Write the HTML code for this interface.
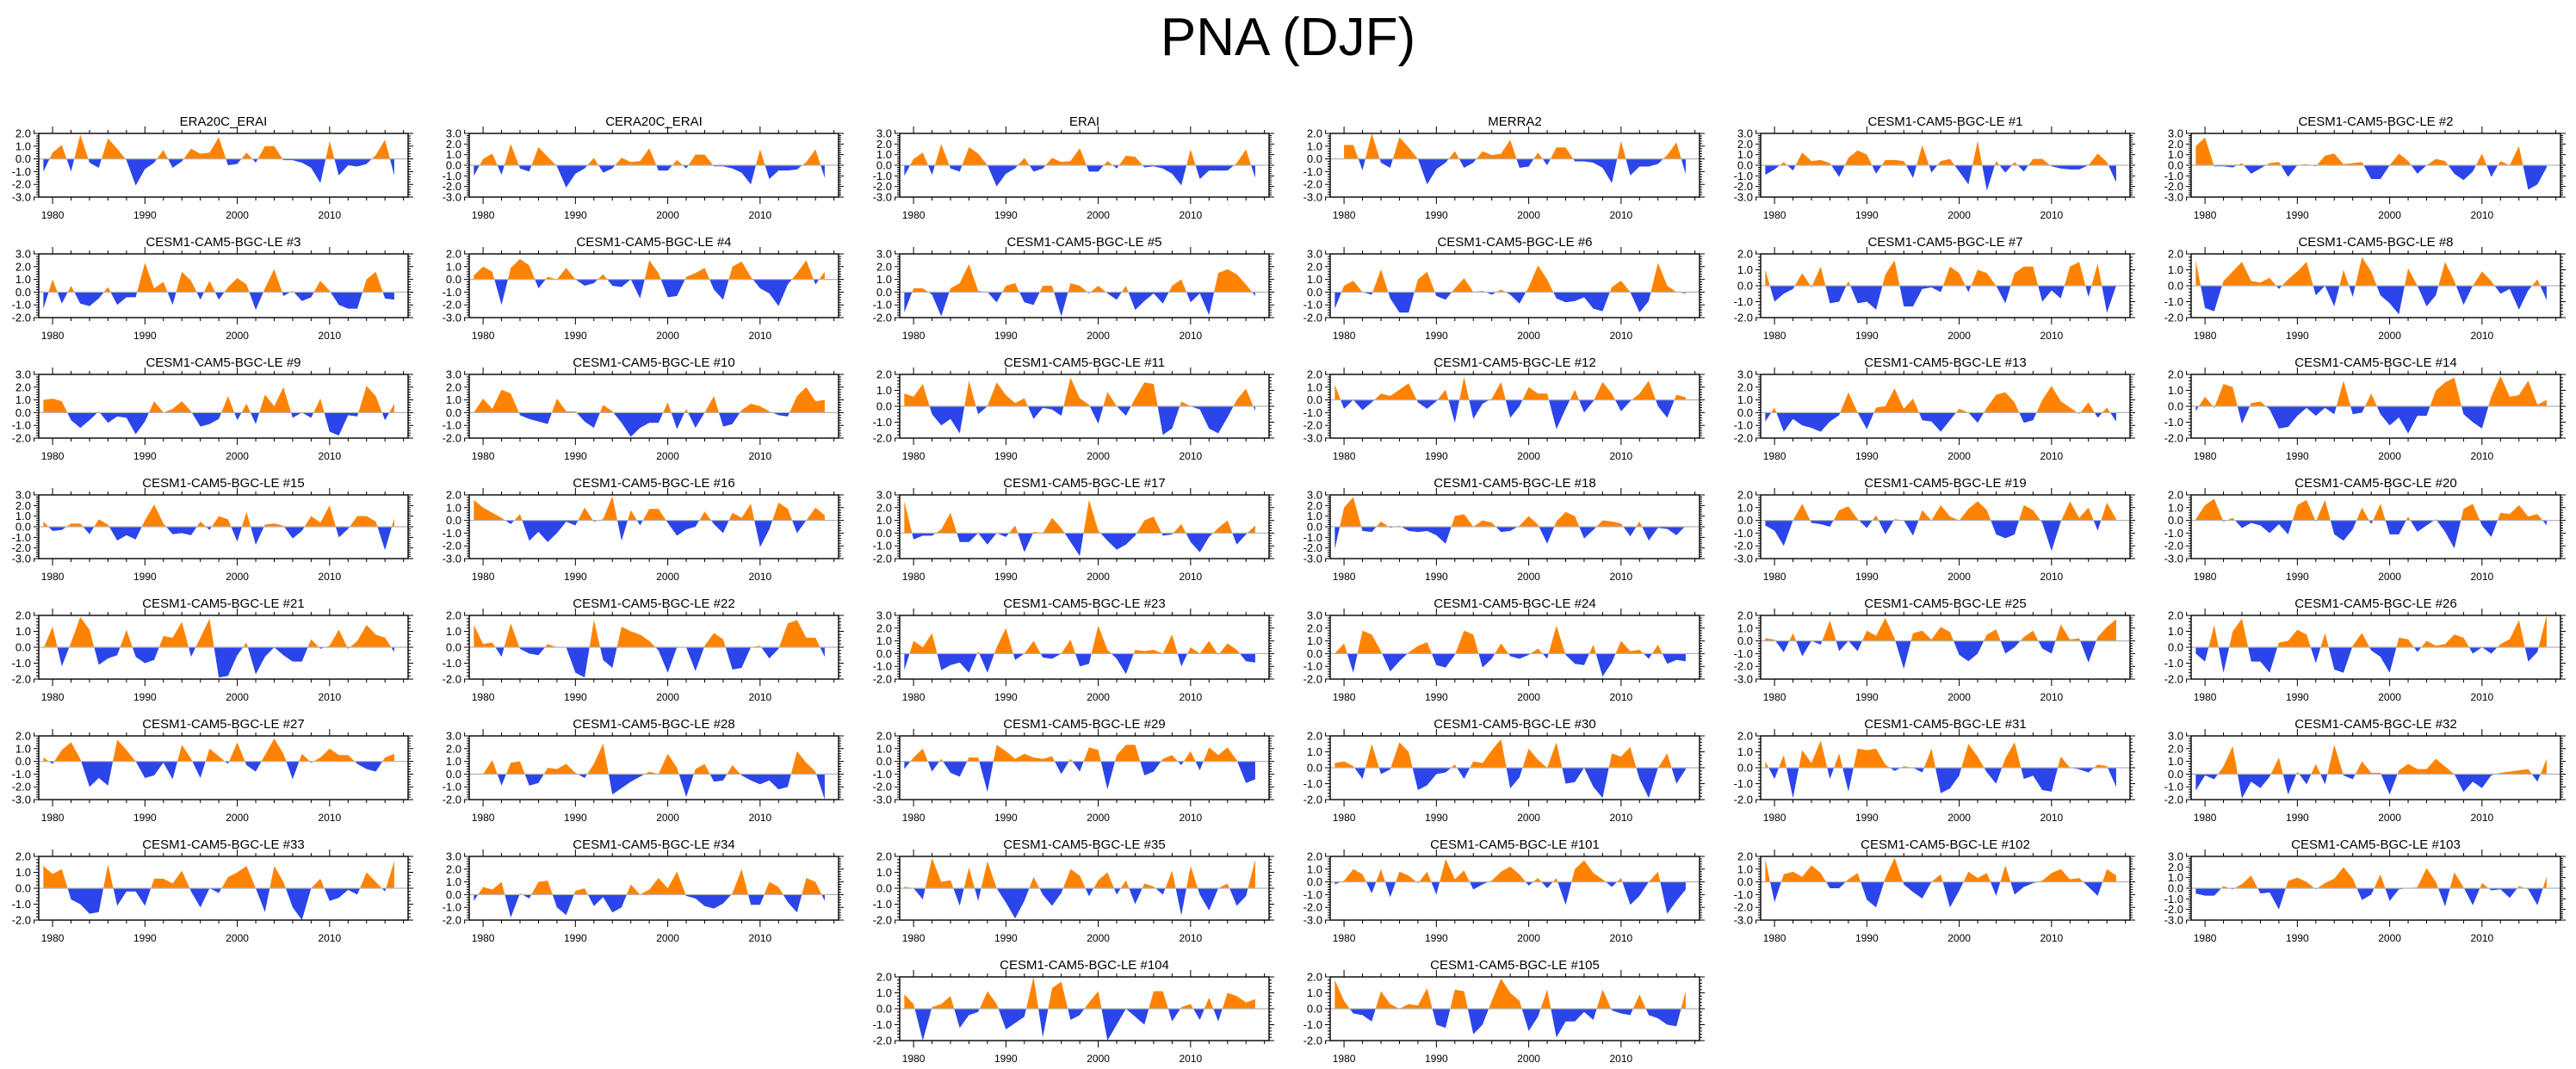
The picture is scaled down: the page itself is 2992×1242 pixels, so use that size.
<!DOCTYPE html>
<html><head><meta charset="utf-8"><title>PNA (DJF)</title>
<style>
html,body{margin:0;padding:0;background:#fff;}
svg{display:block;font-family:"Liberation Sans",Arial,sans-serif;}
</style></head>
<body>
<svg id="chart" width="2992" height="1242" viewBox="0 0 2992 1242" xmlns="http://www.w3.org/2000/svg">
<rect x="0" y="0" width="2992" height="1242" fill="#fff"/>
<text x="1496" y="64" font-size="62" text-anchor="middle" fill="#000">PNA (DJF)</text>
</svg>
<script>
const startYear = 1979;
const panelTitles = ["ERA20C_ERAI","CERA20C_ERAI","ERAI","MERRA2","CESM1-CAM5-BGC-LE #1","CESM1-CAM5-BGC-LE #2",
"CESM1-CAM5-BGC-LE #3","CESM1-CAM5-BGC-LE #4","CESM1-CAM5-BGC-LE #5","CESM1-CAM5-BGC-LE #6","CESM1-CAM5-BGC-LE #7","CESM1-CAM5-BGC-LE #8",
"CESM1-CAM5-BGC-LE #9","CESM1-CAM5-BGC-LE #10","CESM1-CAM5-BGC-LE #11","CESM1-CAM5-BGC-LE #12","CESM1-CAM5-BGC-LE #13","CESM1-CAM5-BGC-LE #14",
"CESM1-CAM5-BGC-LE #15","CESM1-CAM5-BGC-LE #16","CESM1-CAM5-BGC-LE #17","CESM1-CAM5-BGC-LE #18","CESM1-CAM5-BGC-LE #19","CESM1-CAM5-BGC-LE #20",
"CESM1-CAM5-BGC-LE #21","CESM1-CAM5-BGC-LE #22","CESM1-CAM5-BGC-LE #23","CESM1-CAM5-BGC-LE #24","CESM1-CAM5-BGC-LE #25","CESM1-CAM5-BGC-LE #26",
"CESM1-CAM5-BGC-LE #27","CESM1-CAM5-BGC-LE #28","CESM1-CAM5-BGC-LE #29","CESM1-CAM5-BGC-LE #30","CESM1-CAM5-BGC-LE #31","CESM1-CAM5-BGC-LE #32",
"CESM1-CAM5-BGC-LE #33","CESM1-CAM5-BGC-LE #34","CESM1-CAM5-BGC-LE #35","CESM1-CAM5-BGC-LE #101","CESM1-CAM5-BGC-LE #102","CESM1-CAM5-BGC-LE #103",
"CESM1-CAM5-BGC-LE #104","CESM1-CAM5-BGC-LE #105"];
const yMaxes = [2,3,3,2,3,3, 3,2,3,3,2,2, 3,3,2,2,3,2, 3,2,3,3,2,2, 2,2,3,3,2,2, 2,3,2,2,2,3, 2,3,2,2,2,3, 2,2];
const yMins  = [-3,-3,-3,-3,-3,-3, -2,-3,-2,-2,-2,-2, -2,-2,-2,-3,-2,-2, -3,-3,-2,-3,-3,-3, -2,-2,-2,-2,-3,-2, -3,-2,-3,-2,-2,-2, -2,-2,-2,-3,-3,-3, -2,-2];
const xTickLabels = ["1980","1990","2000","2010"];

const s00=[-1.0,0.5,1.1,-1.0,1.9,-0.3,-0.7,1.6,0.8,-0.1,-2.1,-0.8,-0.3,0.7,-0.7,-0.2,0.8,0.4,0.5,1.7,-0.5,-0.4,0.5,-0.3,1.0,1.0,-0.1,-0.1,-0.3,-0.7,-1.9,1.4,-1.3,-0.5,-0.6,-0.4,0.3,1.5,-1.3];
const s01=[-1.0,0.6,1.1,-0.9,2.0,-0.3,-0.6,1.7,0.8,-0.1,-2.1,-0.8,-0.3,0.7,-0.7,-0.3,0.7,0.3,0.4,1.6,-0.5,-0.5,0.5,-0.3,1.0,1.0,-0.1,-0.1,-0.3,-0.7,-1.8,1.5,-1.3,-0.5,-0.5,-0.4,0.3,1.5,-1.2];
const s02=[-1.0,0.6,1.2,-0.9,2.0,-0.3,-0.6,1.7,1.1,0.0,-2.0,-0.8,-0.3,0.7,-0.6,-0.3,0.7,0.3,0.4,1.6,-0.6,-0.6,0.4,-0.3,0.9,0.8,-0.2,-0.1,-0.3,-0.8,-1.9,1.5,-1.3,-0.5,-0.5,-0.5,0.2,1.5,-1.2];
const s03=[null,1.1,1.1,-0.9,2.0,-0.3,-0.7,1.7,0.9,0.0,-2.0,-0.8,-0.3,0.6,-0.7,-0.3,0.6,0.3,0.4,1.5,-0.7,-0.6,0.5,-0.5,0.9,0.9,-0.2,-0.2,-0.3,-0.7,-1.9,1.4,-1.3,-0.6,-0.6,-0.4,0.3,1.3,-1.2];
const s04=[-0.9,-0.4,0.3,-0.5,1.2,0.4,0.5,0.2,-1.1,0.7,1.4,1.0,-0.8,0.5,0.5,0.4,-1.2,1.9,-0.7,0.4,0.6,-0.6,-1.8,2.3,-2.4,0.4,-0.7,0.3,-0.6,0.6,0.6,-0.1,-0.3,-0.4,-0.4,0.0,1.1,0.3,-1.6];
const s05=[1.8,2.6,-0.1,-0.1,-0.2,0.2,-0.8,-0.3,0.2,0.3,-1.1,0.0,0.1,-0.1,0.9,1.1,0.1,0.2,0.3,-1.3,-1.3,0.0,1.1,0.4,-0.8,0.0,0.6,0.4,-0.8,-1.4,-0.6,1.1,-1.1,0.4,0.0,1.8,-2.3,-1.8,-0.2];
const s06=[-1.3,1.0,-0.9,0.5,-0.9,-1.1,-0.5,0.4,-1.0,-0.4,-0.4,2.3,0.3,0.8,-1.0,1.6,0.9,-0.6,0.9,-0.6,0.4,1.1,0.6,-1.4,0.3,1.8,-0.3,0.1,-0.7,-0.4,0.9,0.1,-1.0,-1.3,-1.3,1.0,1.6,-0.5,-0.6];
const s07=[0.3,1.0,0.6,-2.0,0.9,1.6,1.1,-0.7,0.2,0.0,0.9,0.0,-0.5,-0.3,0.4,-0.5,-0.6,0.0,-1.5,1.5,0.5,-1.4,-1.3,0.2,0.5,0.9,-0.8,-1.6,1.0,1.4,0.2,-0.7,-1.1,-2.1,-0.4,0.5,1.5,-0.4,0.6];
const s08=[-1.6,0.3,0.3,-0.2,-1.9,0.3,0.7,2.2,0.1,0.0,-0.8,0.5,0.7,-0.8,-1.0,0.5,0.5,-1.9,0.7,0.5,-0.1,0.5,-0.1,-0.6,0.5,-1.4,-0.7,-0.1,-0.9,0.5,1.0,-0.8,-0.1,-1.8,1.5,1.8,1.4,0.6,-0.3];
const s09=[-1.3,0.5,0.9,0.0,-0.2,1.8,-0.5,-1.6,-1.6,1.0,1.6,-0.3,-0.6,0.3,1.1,0.0,0.1,-0.2,0.2,-0.2,-0.9,0.4,2.1,1.0,-0.5,-0.8,-0.7,-0.4,-1.3,-1.5,0.4,0.9,0.0,-1.6,-0.7,2.3,0.5,0.0,-0.1];
const s10=[1.0,-1.0,-0.5,-0.2,0.8,-0.1,1.2,-1.1,-1.0,0.3,-1.1,-1.0,-1.5,0.7,1.6,-1.3,-1.3,-0.2,-0.1,-0.4,1.2,0.8,-0.4,1.0,0.8,0.0,-1.1,0.8,1.2,1.2,-1.0,-0.3,-0.8,1.2,1.5,-0.7,1.4,-1.7,0.0];
const s11=[1.6,-1.4,-1.6,0.3,0.9,1.5,0.3,0.2,0.5,-0.2,0.4,0.9,1.5,-0.6,0.0,-1.3,1.0,-0.7,1.8,0.9,-0.6,-1.1,-1.8,1.1,0.0,-1.3,-0.6,1.5,0.3,-1.2,0.0,0.9,0.3,-0.5,-0.2,-1.5,-0.3,0.4,-0.9];
const s12=[1.0,1.1,0.9,-0.6,-1.2,-0.6,0.1,-0.8,-0.3,-0.4,-1.7,-0.7,0.9,0.0,0.3,0.9,0.1,-1.1,-0.9,-0.5,1.3,-0.6,0.7,-0.9,1.4,0.5,2.0,-0.4,0.0,-0.4,1.1,-1.5,-1.8,-0.2,-0.3,2.1,1.3,-0.6,0.7];
const s13=[0.0,1.1,0.3,1.8,1.5,-0.2,-0.5,-0.7,-0.9,1.1,0.1,0.1,-0.7,-1.2,0.6,0.1,-0.8,-1.9,-1.2,-0.8,-0.8,0.8,-1.3,0.3,-1.2,0.0,1.3,-1.1,-0.9,0.2,0.7,0.5,0.1,-0.2,-0.3,1.3,2.0,0.9,1.0];
const s14=[0.8,0.6,1.4,-0.5,-1.2,-0.8,-1.7,1.6,-0.5,0.0,1.5,0.7,0.2,0.5,-0.8,-0.1,-0.2,-0.6,1.8,0.5,0.1,-1.1,0.9,0.0,-0.6,0.5,1.5,1.4,-1.8,-1.4,0.3,0.0,-0.2,-1.4,-1.7,-0.7,0.4,1.1,-0.3];
const s15=[1.2,-0.7,0.0,-0.8,-0.2,0.5,0.3,0.8,1.3,-0.2,-0.7,-0.1,0.8,-1.8,1.8,-1.5,-0.3,0.1,1.4,-1.4,-0.5,1.0,0.5,0.5,-2.3,-0.7,0.8,-1.0,-0.1,1.4,0.5,-0.9,-0.1,0.5,1.5,-0.5,-1.4,0.4,0.2];
const s16=[-0.7,0.4,-1.5,-0.5,-1.0,-1.2,-1.5,-0.7,-0.2,1.6,0.0,-1.3,0.4,0.5,1.9,0.3,1.1,-0.6,-0.7,-1.5,-0.6,0.3,0.0,-0.8,0.4,1.4,1.6,0.8,-0.8,-0.6,1.0,2.1,0.9,0.4,-0.1,0.8,-0.4,0.4,-0.7];
const s17=[-0.3,0.6,-0.1,1.4,1.2,-1.1,0.2,0.3,-0.2,-1.4,-1.3,-0.6,-0.1,-0.6,-0.1,-0.5,1.6,-0.5,-0.4,0.8,-0.5,-1.2,-0.7,-1.7,-0.6,-0.6,1.0,1.5,1.8,-0.5,-1.0,-1.4,0.6,1.9,0.6,0.7,1.6,0.1,0.4];
const s18=[0.5,-0.4,-0.3,0.3,0.3,-0.7,0.7,0.2,-1.3,-0.8,-1.2,0.6,2.1,0.3,-0.7,-0.6,-0.8,0.5,-0.3,1.0,0.7,-1.4,1.4,-1.7,0.2,0.3,0.1,-1.1,-0.4,1.0,0.4,2.0,-1.0,-0.2,1.0,1.0,0.5,-2.2,0.8];
const s19=[1.6,1.0,0.6,0.2,-0.3,0.5,-1.6,-0.9,-1.7,-1.0,-0.1,-0.4,1.0,-0.1,0.1,1.9,-1.6,0.8,-0.4,0.9,0.9,-0.2,-1.2,-0.7,-0.5,0.7,-0.3,-1.0,0.6,0.2,1.3,-2.1,-0.7,1.4,0.9,-1.0,0.0,1.0,0.4];
const s20=[2.5,-0.5,-0.2,-0.2,0.3,1.6,-0.7,-0.7,0.0,-0.9,0.0,-0.3,0.6,-1.5,0.1,0.0,1.2,0.4,-0.7,-1.8,2.6,0.2,-0.6,-1.3,-0.9,-0.2,1.0,1.3,-0.2,-0.1,0.7,-0.7,-1.5,-0.3,0.4,1.0,-0.9,-0.1,0.6];
const s21=[-2.1,1.8,2.8,-0.4,-0.5,0.5,-0.1,0.1,-0.4,-0.5,-0.4,-0.8,-1.6,1.0,1.2,0.0,0.6,0.4,-0.5,-0.4,0.1,1.0,0.2,-1.6,0.5,1.4,1.0,-1.1,-0.3,0.6,0.5,0.3,-0.9,0.5,-1.3,-0.1,-0.2,-0.8,0.1];
const s22=[-0.4,-0.8,-2.0,0.0,1.3,-0.2,-0.3,-0.5,0.8,1.1,0.1,-0.6,0.4,-1.1,0.1,0.0,-1.2,0.8,0.0,1.2,0.3,0.0,0.9,1.5,0.8,-1.1,-1.4,-1.1,1.2,0.8,-0.2,-2.4,-0.1,1.5,0.2,1.0,-0.8,1.4,0.1];
const s23=[0.1,1.2,1.7,-0.1,0.2,-0.6,-0.2,-0.4,-1.0,-0.3,-1.1,1.2,1.6,-0.1,1.6,-1.1,-1.6,-0.7,1.0,-0.3,1.3,-1.1,-1.1,0.3,-0.9,-0.4,0.1,-0.9,-2.2,0.9,1.3,-0.4,-1.3,0.6,0.5,1.2,0.3,0.5,-0.4];
const s24=[-0.1,1.3,-1.2,0.3,1.9,1.1,-1.1,-0.7,-0.5,1.1,-0.6,-1.0,-0.8,0.7,0.6,1.6,-0.6,0.6,1.8,-1.9,-1.8,-0.5,0.3,-1.7,-0.6,0.0,-0.5,-0.9,-0.9,0.5,-0.1,0.1,1.1,-0.1,0.4,1.4,0.8,0.6,-0.3];
const s25=[1.4,0.2,0.3,-0.6,1.5,-0.1,-0.4,-0.5,0.2,0.0,0.0,-1.6,-1.9,1.7,-0.8,-1.3,1.3,1.0,0.8,0.4,-0.2,-1.6,0.0,0.0,-1.5,0.1,0.9,0.5,-1.4,-1.3,0.0,0.1,-0.7,-0.1,1.5,1.7,0.6,0.6,-0.6];
const s26=[-1.3,1.0,0.5,1.6,-1.3,-0.9,-0.7,-1.5,0.2,-1.5,0.5,2.0,-0.5,0.0,1.0,-0.3,-0.4,0.0,1.1,-1.0,-0.8,2.2,0.3,-0.4,-1.6,0.3,0.2,0.3,0.0,1.5,-1.0,0.5,0.0,1.0,-0.1,0.8,0.3,-0.6,-0.7];
const s27=[0.0,0.8,-1.5,1.8,1.5,0.2,-1.4,-0.6,0.1,0.6,0.9,-0.9,-1.1,-0.1,1.8,1.5,-1.1,-0.4,0.8,-0.2,-0.4,-0.1,0.4,-0.4,2.2,-0.1,-0.8,-0.9,0.7,-1.8,-0.7,1.0,0.2,0.3,-0.4,0.7,-0.8,-0.5,-0.6];
const s28=[0.2,0.1,-0.9,0.6,-1.2,0.0,-0.3,1.6,-0.8,0.0,-0.8,0.8,0.4,1.8,0.2,-2.2,0.6,0.8,0.1,1.1,0.7,-1.1,-1.6,-1.0,0.5,0.9,-1.0,-0.5,0.3,0.8,-0.6,-1.0,1.3,0.1,0.2,-1.7,0.3,1.1,1.7];
const s29=[-0.4,-0.9,1.4,-1.6,1.0,1.8,-0.9,-0.9,-1.6,0.3,0.4,1.1,0.8,-1.0,0.9,-1.4,-1.6,0.1,0.9,-0.2,-0.6,-1.6,0.6,0.5,-0.3,0.4,0.1,0.2,0.8,0.6,-0.4,0.0,-0.4,0.2,0.5,1.7,-0.9,-0.3,2.0];
const s30=[0.3,-0.2,0.9,1.5,0.2,-2.0,-1.3,-1.9,1.7,0.9,0.0,-1.3,-1.1,-0.1,-1.4,1.3,0.2,-1.3,1.0,0.4,-0.2,1.5,-0.3,-0.8,0.5,1.8,0.6,-1.4,0.6,-0.1,0.3,1.0,0.5,0.5,-0.2,-0.6,-0.8,0.3,0.6];
const s31=[0.0,0.0,1.1,-0.9,0.9,1.0,-0.9,-0.7,0.5,0.4,0.8,0.1,-0.3,0.8,2.4,-1.6,-1.1,-0.6,-0.2,0.2,0.0,1.6,0.5,-1.8,0.4,0.8,-0.6,-0.5,0.7,-0.1,-0.5,-0.8,-0.5,-1.2,-1.0,1.8,0.9,0.2,-2.0];
const s32=[-0.6,0.3,1.0,-0.8,0.2,-0.9,-1.2,0.3,0.3,-2.4,1.3,0.8,0.2,0.6,0.3,0.2,0.4,-1.0,0.2,-0.8,1.1,0.9,-2.2,0.5,1.3,1.3,-1.1,-0.8,0.2,0.5,-0.3,0.8,-0.7,1.1,0.5,1.1,0.1,-1.7,-1.4];
const s33=[0.3,0.4,0.1,-0.7,1.5,-0.4,-0.1,1.6,1.0,-1.4,-1.1,-0.4,-0.3,0.2,-0.7,0.4,0.3,1.1,1.8,-1.3,-0.6,1.2,0.5,0.0,1.6,-1.0,-0.9,0.0,-1.2,-1.9,0.9,0.7,1.3,-0.7,-1.9,0.0,0.9,-1.0,-0.1];
const s34=[0.4,-0.7,0.8,-1.9,1.1,0.3,1.7,-0.7,0.9,-1.5,1.2,1.1,1.2,0.2,-0.2,0.1,0.0,-0.3,1.2,-1.6,-1.3,-0.5,1.5,0.7,-0.3,-1.0,0.6,1.6,-0.7,-0.5,-1.4,-1.5,0.7,0.0,-0.1,-0.3,0.2,0.1,-1.2];
const s35=[-1.3,-0.1,-0.4,0.6,2.2,-1.9,-0.6,-1.1,-0.2,1.3,-1.6,0.2,-0.8,0.8,-0.8,2.3,-0.1,-0.4,1.0,0.1,0.1,-1.6,0.3,0.8,0.4,0.4,1.2,0.6,0.0,-1.4,-0.6,-1.1,-0.1,0.1,0.2,0.3,0.4,-0.6,1.2];
const s36=[1.4,0.9,1.2,-0.7,-1.0,-1.6,-1.5,1.5,-1.1,-0.2,-0.2,-1.1,0.6,0.6,0.3,1.1,-0.2,-1.2,0.0,-0.3,0.7,1.0,1.4,0.0,-1.5,1.4,0.4,-1.2,-2.0,0.0,0.6,-0.8,-0.6,-0.1,-0.4,1.0,0.4,-0.2,1.7];
const s37=[-0.5,0.6,0.4,1.0,-1.8,0.1,-0.3,1.0,1.1,-1.0,-1.6,0.3,0.5,-0.9,-0.2,-1.4,-1.0,0.8,0.0,0.4,1.3,0.5,1.8,-0.1,-0.3,-0.9,-1.1,-0.7,0.1,2.0,-0.8,-0.8,1.0,0.6,-0.6,-1.4,1.3,1.0,-0.5];
const s38=[0.1,0.0,-0.7,1.9,0.4,0.5,-1.1,1.3,-0.8,1.7,0.0,-0.9,-1.9,-0.8,0.7,-0.4,-1.1,-0.3,1.2,0.8,-0.5,0.5,1.0,-0.4,0.5,-1.0,0.3,0.1,-0.4,1.1,-1.7,1.4,-0.4,-1.4,0.0,0.3,-1.1,-0.5,1.8];
const s39=[-0.2,0.1,1.0,0.6,-0.9,1.0,-1.2,0.8,0.5,-0.1,0.8,-1.0,1.8,0.2,0.9,-0.6,-0.2,0.1,0.8,1.2,0.6,-0.3,0.3,-0.5,0.3,-1.8,1.0,1.7,0.7,0.2,-0.4,0.3,-1.8,-1.1,0.0,0.8,-2.5,-1.5,-0.6];
const s40=[1.8,-1.6,0.6,0.8,0.4,1.3,0.7,-0.5,-0.5,0.2,0.7,-1.4,-2.0,0.3,1.9,-0.2,-0.8,-1.3,0.0,0.6,-2.0,-0.7,0.8,0.3,0.7,-1.1,1.3,-1.0,-0.4,-0.1,0.1,0.7,1.0,0.2,0.3,-0.4,-1.1,1.0,0.5];
const s41=[-0.5,-0.7,-0.7,0.2,-0.1,0.4,1.2,-0.5,-0.4,-2.0,0.7,1.0,0.6,-0.1,0.5,0.9,2.0,0.9,-1.1,-0.6,1.3,-1.2,-0.1,0.0,0.1,1.9,0.6,-1.7,1.5,0.1,-1.6,0.5,-0.2,-0.1,-0.9,0.2,-0.1,-1.6,1.1];
const s42=[0.9,0.3,-2.0,0.1,0.3,0.8,-1.2,-0.4,-0.2,1.1,0.3,-1.3,-0.9,-0.5,2.0,-1.8,1.3,1.7,-0.7,-0.4,0.4,1.1,-2.0,-1.0,0.0,-0.5,-1.0,1.1,1.1,-0.8,0.1,0.3,-0.7,0.7,-0.8,1.0,0.8,0.4,0.6];
const s43=[1.8,0.5,-0.3,-0.4,-0.8,1.1,0.3,0.0,0.3,0.2,1.3,-1.0,-1.2,1.2,1.1,-1.6,-1.0,0.5,1.9,1.0,0.5,-1.4,-0.5,1.2,-1.8,-0.8,-0.8,-0.2,-0.7,1.2,-0.1,-0.3,-0.4,0.9,-0.4,-0.6,-1.0,-1.1,1.1];
const seriesList=[s00,s01,s02,s03,s04,s05,s06,s07,s08,s09,s10,s11,s12,s13,s14,s15,s16,s17,s18,s19,s20,s21,s22,s23,s24,s25,s26,s27,s28,s29,s30,s31,s32,s33,s34,s35,s36,s37,s38,s39,s40,s41,s42,s43];

const NS="http://www.w3.org/2000/svg";
const svg=document.getElementById('chart');
const BOX_W=429, BOX_H=74, COL0=45, COL_STEP=500, ROW0=155, ROW_STEP=140;
const X0YEAR=1978.5, PX_PER_YEAR=BOX_W/40;
const ORANGE="#ff8300", BLUE="#2b45ea";
function mk(tag,attrs,parent){const e=document.createElementNS(NS,tag);for(const k in attrs)e.setAttribute(k,attrs[k]);(parent||svg).appendChild(e);return e;}

seriesList.forEach((vals,i)=>{
  let col,row;
  if(i<42){col=i%6;row=Math.floor(i/6);}else{col=i-42+2;row=7;}
  const left=COL0+col*COL_STEP, top=ROW0+row*ROW_STEP;
  const ymax=yMaxes[i], ymin=yMins[i];
  const xs=yr=>left+(yr-X0YEAR)*PX_PER_YEAR;
  const ys=v=>top+(ymax-v)/(ymax-ymin)*BOX_H;
  const g=mk('g',{});
  
  
  const t=mk('text',{x:left+BOX_W/2,y:top-9,'font-size':15,'text-anchor':'middle',fill:'#000'},g);
  
  
  t.textContent=panelTitles[i];
  // area
  const pts=[];
  vals.forEach((v,k)=>{if(v!==null)pts.push([xs(startYear+k),ys(v)]);});
  const y0=ys(0);
  let d='M'+pts[0][0].toFixed(2)+','+y0.toFixed(2);
  pts.forEach(p=>{d+=' L'+p[0].toFixed(2)+','+p[1].toFixed(2);});
  d+=' L'+pts[pts.length-1][0].toFixed(2)+','+y0.toFixed(2)+' Z';
  const cpU=mk('clipPath',{id:'cu'+i},g);
  mk('rect',{x:left,y:top,width:BOX_W,height:y0-top},cpU);
  const cpD=mk('clipPath',{id:'cd'+i},g);
  mk('rect',{x:left,y:y0,width:BOX_W,height:top+BOX_H-y0},cpD);
  const aU=mk('path',{d:d,fill:ORANGE,'clip-path':'url(#cu'+i+')'},g);
  
  
  const aD=mk('path',{d:d,fill:BLUE,'clip-path':'url(#cd'+i+')'},g);
  
  
  const zl=mk('line',{x1:left,x2:left+BOX_W,y1:y0,y2:y0,stroke:'#b4b4b4','stroke-width':1.2},g);
  
  
  // box
  const bx=mk('rect',{x:left,y:top,width:BOX_W,height:BOX_H,fill:'none',stroke:'#000','stroke-width':1.4},g);
  
  
  // y ticks
  let td='';
  for(let v=ymin; v<=ymax+1e-6; v+=0.2){
    const yy=ys(v).toFixed(2);
    const major=Math.abs(v-Math.round(v))<1e-6;
    const L=major?6:3;
    td+='M'+(left-L)+','+yy+' L'+left+','+yy+' M'+(left+BOX_W)+','+yy+' L'+(left+BOX_W+L)+','+yy+' ';
  }
  for(let yr=1978; yr<=2018; yr+=2){
    const xx=xs(yr).toFixed(2);
    const L=(yr%10===0)?8:4;
    td+='M'+xx+','+top+' L'+xx+','+(top-L)+' M'+xx+','+(top+BOX_H)+' L'+xx+','+(top+BOX_H+L)+' ';
  }
  const tk=mk('path',{d:td,stroke:'#000','stroke-width':1,fill:'none'},g);
  
  
  for(let v=ymin; v<=ymax; v++){
    const lb=mk('text',{x:left-9,y:ys(v)+4.5,'font-size':13,'text-anchor':'end',fill:'#000'},g);
    
    
    lb.textContent=v.toFixed(1);
  }
  xTickLabels.forEach(s=>{
    const lb=mk('text',{x:xs(+s),y:top+BOX_H+25,'font-size':12,'text-anchor':'middle',fill:'#000'},g);
    
    
    lb.textContent=s;
  });
});
</script>
</body></html>
